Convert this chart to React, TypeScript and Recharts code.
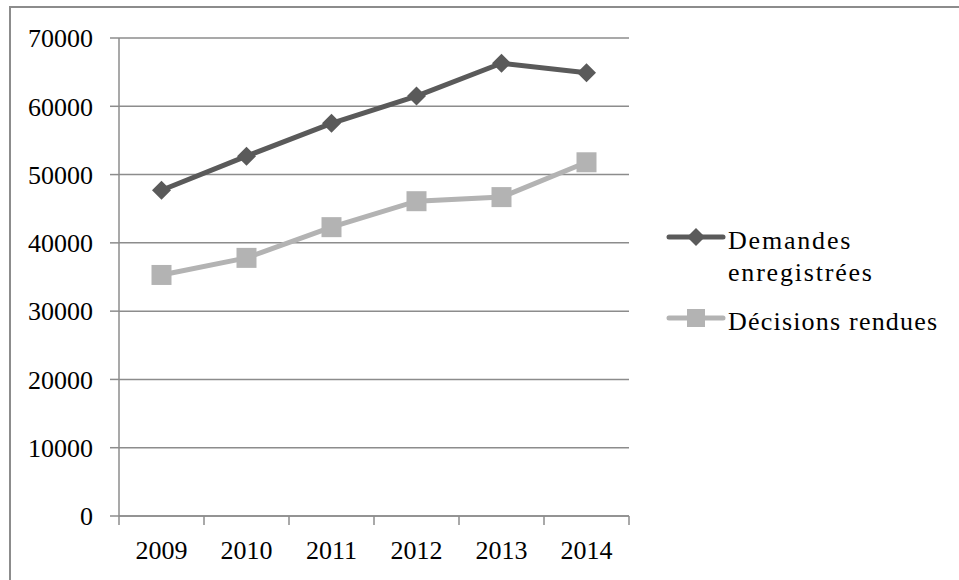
import React from 'react';
import { LineChart, Line, XAxis, YAxis, CartesianGrid } from 'recharts';

const years = ['2009', '2010', '2011', '2012', '2013', '2014'];
const demandes = [47700, 52700, 57500, 61500, 66300, 64900];
const decisions = [35300, 37800, 42300, 46100, 46700, 51800];
const yTicks = [0, 10000, 20000, 30000, 40000, 50000, 60000, 70000];

const data = years.map((year, i) => ({
  year,
  demandes: demandes[i],
  decisions: decisions[i],
}));

const DARK = '#5a5a5a';
const LIGHT = '#b3b3b3';
const GRID = '#8c8c8c';
const FONT = '"Liberation Serif", serif';

const Diamond = (props: any) => {
  const { cx, cy } = props;
  if (cx == null || cy == null) return null;
  const r = 9.5;
  return (
    <polygon
      points={`${cx},${cy - r} ${cx + r},${cy} ${cx},${cy + r} ${cx - r},${cy}`}
      fill={DARK}
    />
  );
};

const Square = (props: any) => {
  const { cx, cy } = props;
  if (cx == null || cy == null) return null;
  return <rect x={cx - 10} y={cy - 10} width={20} height={20} fill={LIGHT} />;
};

const YearTick = (props: any) => {
  const { x, y, payload, index } = props;
  const half = payload && payload.offset ? payload.offset : 42.5;
  const last = index === years.length - 1;
  return (
    <g>
      <line x1={x - half} y1={y} x2={x - half} y2={y + 9} stroke={GRID} strokeWidth={1.5} />
      {last && <line x1={x + half} y1={y} x2={x + half} y2={y + 9} stroke={GRID} strokeWidth={1.5} />}
      <text x={x} y={y + 43} textAnchor="middle" fill="#000" fontSize={26} fontFamily={FONT}>
        {payload.value}
      </text>
    </g>
  );
};

const LegendBox = () => (
  <svg width={300} height={140} style={{ position: 'absolute', left: 660, top: 222, overflow: 'visible' }}>
    <line x1={9} y1={15} x2={63} y2={15} stroke={DARK} strokeWidth={5} strokeLinecap="round" />
    <polygon points="36,6 45,15 36,24 27,15" fill={DARK} />
    <text x={68} y={27} fontSize={26} fontFamily={FONT} fill="#000" letterSpacing={1.8}>Demandes</text>
    <text x={68} y={59} fontSize={26} fontFamily={FONT} fill="#000" letterSpacing={1.8}>enregistrées</text>
    <line x1={9} y1={96} x2={63} y2={96} stroke={LIGHT} strokeWidth={5} strokeLinecap="round" />
    <rect x={27} y={87} width={18} height={18} fill={LIGHT} />
    <text x={68} y={108} fontSize={26} fontFamily={FONT} fill="#000" letterSpacing={1.2}>Décisions rendues</text>
  </svg>
);

export default function App() {
  return (
    <div style={{ position: 'fixed', left: 0, top: 0, width: 959, height: 580, background: '#fff', overflow: 'hidden' }}>
      <div
        style={{
          position: 'absolute',
          left: 9,
          top: 6,
          width: 1000,
          height: 700,
          borderLeft: `2px solid ${GRID}`,
          borderTop: `2px solid ${GRID}`,
        }}
      />
      <div style={{ position: 'absolute', left: 0, top: 0 }}>
        <LineChart width={959} height={580} data={data} margin={{ top: 38, right: 330, left: 0, bottom: 0 }}>
          <CartesianGrid horizontal vertical={false} stroke={GRID} strokeWidth={1.5} />
          <XAxis
            dataKey="year"
            scale="band"
            height={64}
            stroke={GRID}
            strokeWidth={1.5}
            tickLine={false}
            tickSize={0}
            tickMargin={0}
            interval={0}
            tick={<YearTick />}
          />
          <YAxis
            width={119}
            domain={[0, 70000]}
            ticks={yTicks}
            interval={0}
            stroke={GRID}
            strokeWidth={1.5}
            tickSize={9}
            tickMargin={17}
            tick={{ fill: '#000', fontSize: 26, fontFamily: FONT }}
          />
          <Line
            dataKey="demandes"
            name="Demandes enregistrées"
            stroke={DARK}
            strokeWidth={5}
            dot={<Diamond />}
            activeDot={false}
            isAnimationActive={false}
          />
          <Line
            dataKey="decisions"
            name="Décisions rendues"
            stroke={LIGHT}
            strokeWidth={5}
            dot={<Square />}
            activeDot={false}
            isAnimationActive={false}
          />
        </LineChart>
      </div>
      <LegendBox />
    </div>
  );
}
